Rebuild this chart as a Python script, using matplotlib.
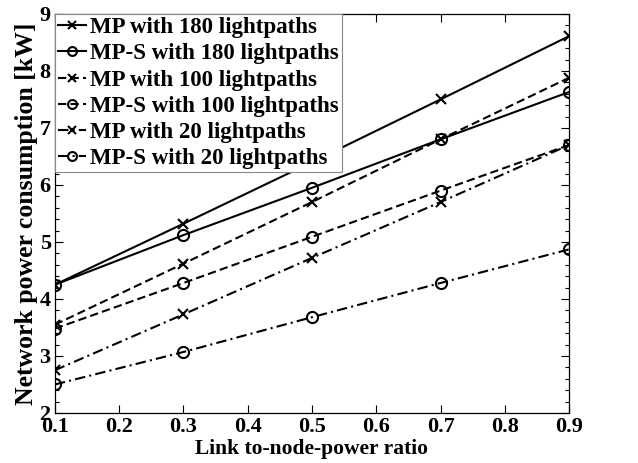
import numpy as np
import matplotlib
matplotlib.use('Agg')
from matplotlib import pyplot as plt
from matplotlib.ticker import MultipleLocator, FormatStrFormatter

plt.rcParams['font.family'] = ['Liberation Serif', 'DejaVu Serif']
plt.rcParams['font.weight'] = 'bold'

# link-to-node power ratio
ratio = [0.1, 0.3, 0.5, 0.7, 0.9]

# network power consumption [kW]
mp_180 = [4.25, 5.32, 6.4, 7.5, 8.61]
mps_180 = [4.25, 5.12, 5.95, 6.8, 7.63]
mp_100 = [3.55, 4.62, 5.7, 6.8, 7.88]
mps_100 = [3.48, 4.28, 5.09, 5.9, 6.7]
mp_20 = [2.75, 3.73, 4.72, 5.7, 6.7]
mps_20 = [2.5, 3.07, 3.68, 4.28, 4.87]

labels = ['MP with 180 lightpaths', 'MP-S with 180 lightpaths',
          'MP with 100 lightpaths', 'MP-S with 100 lightpaths',
          'MP with 20 lightpaths', 'MP-S with 20 lightpaths']

fig = plt.figure(figsize=(6.38, 4.63), dpi=100)
ax = fig.add_axes([0.086, 0.108, 0.806, 0.862])

series = [mp_180, mps_180, mp_100, mps_100, mp_20, mps_20]
styles = ['-', '-', (0, (4, 2)), (0, (4, 2)), (0, (5, 2, 1, 2)), (0, (5, 2, 1, 2))]
marks = ['x', 'o', 'x', 'o', 'x', 'o']
for ys, ls, mk, lb in zip(series, styles, marks, labels):
    ax.plot(ratio, ys, linestyle=ls, marker=mk, color='k', lw=1.5,
            markersize=8 if mk == 'o' else 7, markerfacecolor='none',
            markeredgewidth=1.5, label=lb)

ax.set_xlim(0.1, 0.9)
ax.set_ylim(2, 9)
ax.xaxis.set_major_locator(MultipleLocator(0.1))
ax.yaxis.set_major_locator(MultipleLocator(1))
ax.yaxis.set_minor_locator(MultipleLocator(0.2))
ax.xaxis.set_major_formatter(FormatStrFormatter('%.1f'))
ax.tick_params(which='both', direction='in', top=True, right=True, labelsize=16, width=0.8)
ax.tick_params(which='major', length=6, pad=3)
ax.tick_params(which='minor', length=3)
for sp in ax.spines.values():
    sp.set_linewidth(0.9)

ax.set_xlabel('Link to-node-power ratio', fontsize=15.5, fontweight='bold', labelpad=1)
ax.set_ylabel('Network power consumption [kW]', fontsize=18.5, fontweight='bold', labelpad=1)

leg = ax.legend(loc='upper left', fontsize=16.5, handlelength=1.2, handletextpad=0.2,
                borderaxespad=0.0, borderpad=0.15, labelspacing=0.22, fancybox=False,
                edgecolor='#888888', framealpha=1, markerscale=0.8)
leg.get_frame().set_linewidth(0.8)

fig.savefig('out.png', dpi=100)
